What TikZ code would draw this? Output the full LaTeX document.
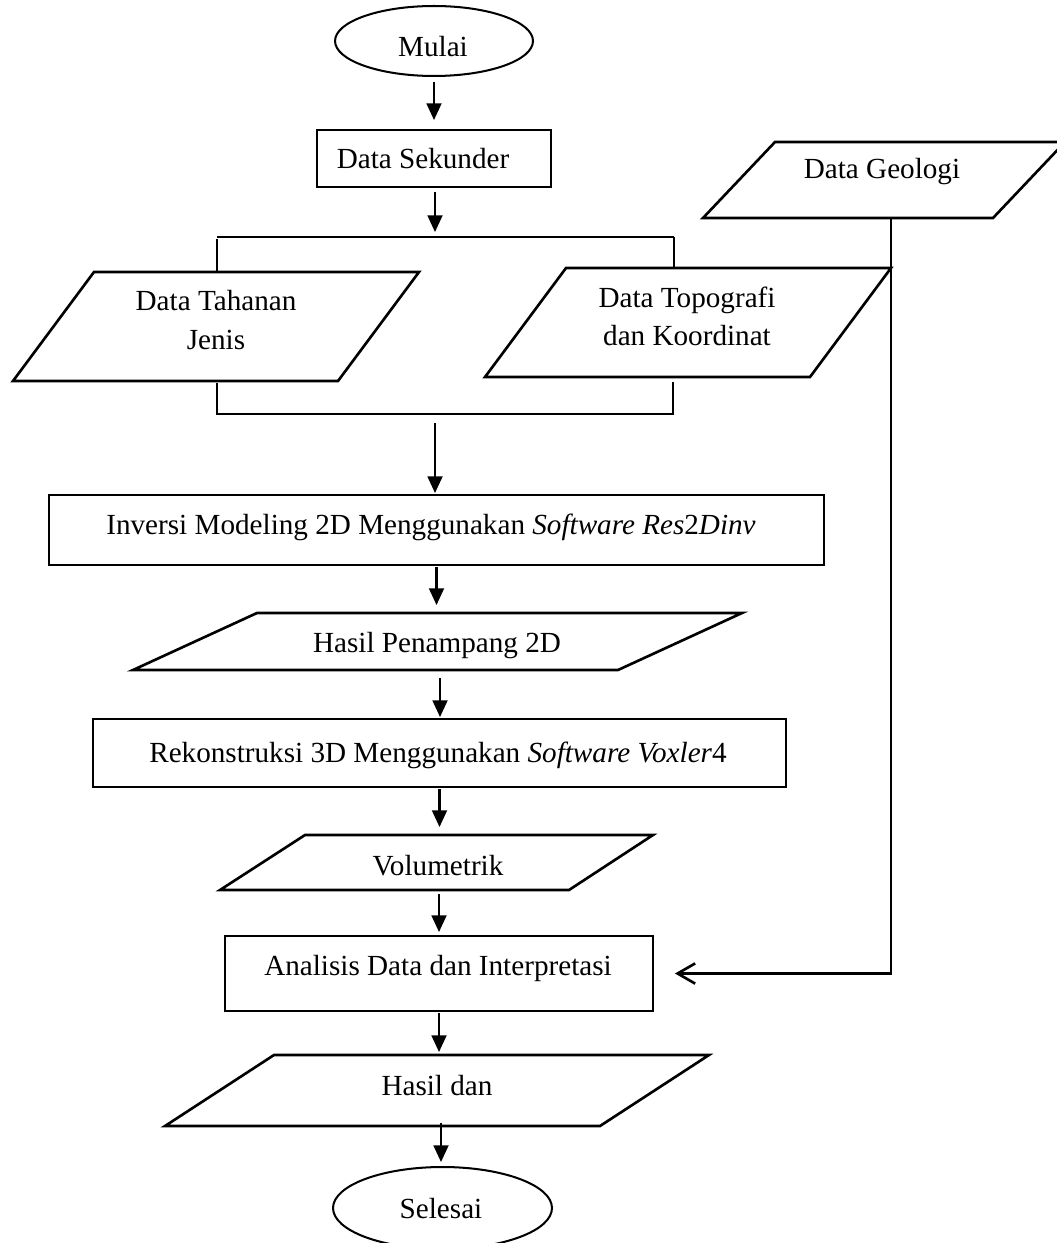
\documentclass[tikz,border=0pt]{standalone}
\usepackage{fontspec}
\setmainfont{Liberation Serif}
\usetikzlibrary{arrows.meta,shapes.geometric}
\begin{document}
\begin{tikzpicture}[x=0.02cm, y=-0.02cm,
  every node/.style={font=\fontsize{16.6}{21.8}\selectfont},
  procbox/.style={draw, rectangle, line width=1.5pt, inner sep=0pt, outer sep=0pt},
  oval/.style={draw, ellipse, line width=1.15pt, inner sep=0pt, outer sep=0pt},
  iobox/.style={draw, line width=1.5pt, line join=miter},
  txt/.style={inner sep=0pt, anchor=base},
  txtc/.style={inner sep=0pt, anchor=center, align=center},
  arr/.style={line width=1.15pt, -{Triangle[length=9.5pt,width=8.5pt]}},
  feed/.style={line width=1.5pt, -{Straight Barb[length=10pt,width=11.5pt,line width=1.5pt]}},
  joinline/.style={line width=0.7pt}
]
\useasboundingbox (0,0) rectangle (1057,1243);
\clip (0,0) rectangle (1057,1243);

% terminators and process boxes
\node[oval, minimum width=3.96cm, minimum height=1.4cm] (mulai) at (434,41) {};
\node[procbox, minimum width=4.68cm, minimum height=1.14cm] (sek) at (434,158.5) {};
\node[procbox, minimum width=15.5cm, minimum height=1.4cm] (inv) at (436.5,530) {};
\node[procbox, minimum width=13.86cm, minimum height=1.36cm] (rek) at (439.5,753) {};
\node[procbox, minimum width=8.56cm, minimum height=1.5cm] (ana) at (439,973.5) {};
\node[oval, minimum width=4.38cm, minimum height=1.64cm] (selesai) at (442.5,1208) {};

% input/output parallelograms
\draw[iobox] (94,272) -- (419,272) -- (338,381) -- (13,381) -- cycle;
\draw[iobox] (566,268) -- (891,268) -- (810,377) -- (485,377) -- cycle;
\draw[iobox] (775,142) -- (1065,142) -- (993,218) -- (703,218) -- cycle;
\draw[iobox] (257,613) -- (742,613) -- (618,670) -- (133,670) -- cycle;
\draw[iobox] (305,835) -- (653,835) -- (569,890) -- (220,890) -- cycle;
\draw[iobox] (274,1055) -- (709,1055) -- (600,1126) -- (165,1126) -- cycle;

% connection points on the parallelograms and the split/merge lines
\coordinate (split) at (435,237);
\coordinate (merge) at (435,414);
\coordinate (geoout) at (891,218);
\coordinate (hp-n) at (438,613);
\coordinate (hp-s) at (440,670);
\coordinate (vol-n) at (439,835);
\coordinate (vol-s) at (439,890);
\coordinate (hd-n) at (439,1055);
\coordinate (hd-s) at (441,1126);

% texts
\node[txt] (mulaiT) at (433,57) {Mulai};
\node[txt] (sekT) at (423,169) {Data Sekunder};
\node[txtc] (tahT) at (216,320) {Data Tahanan\\Jenis};
\node[txtc] (topoT) at (687,316.5) {Data Topografi\\dan Koordinat};
\node[txt] (geoT) at (882,179) {Data Geologi};
\node[txt] (invT) at (431,534) {Inversi Modeling 2D Menggunakan \textit{Software Res}2\textit{Dinv}};
\node[txt] (hpT) at (437,652) {Hasil Penampang 2D};
\node[txt] (rekT) at (438,762) {Rekonstruksi 3D Menggunakan \textit{Software Voxler}4};
\node[txt] (volT) at (438,875) {Volumetrik};
\node[txt] (anaT) at (438,975) {Analisis Data dan Interpretasi};
\node[txt] (hdT) at (437,1095) {Hasil dan};
\node[txt] (selT) at (441,1218) {Selesai};

% split and merge brackets
\draw[line width=1pt] (217,237) -- (674,237);
\draw[joinline] (217,239) -- (217,272);
\draw[joinline] (674,237) -- (674,268);
\draw[line width=0.6pt] (217,383) -- (217,414) -- (673,414) -- (673,382);

% main flow
\draw[arr, shorten <=0.12cm, shorten >=0.2cm] (mulai.south) -- (mulai.south |- sek.north);
\draw[arr, shorten <=0.1cm, shorten >=0.1cm] (sek.south -| split) -- (split);
\draw[arr, shorten <=0.18cm, shorten >=0.04cm] (merge) -- (merge |- inv.north);
\draw[arr, shorten <=0.04cm, shorten >=0.16cm] (inv.south) -- (inv.south |- hp-n);
\draw[arr, shorten <=0.16cm, shorten >=0.04cm] (hp-s) -- (hp-s |- rek.north);
\draw[arr, shorten <=0.04cm, shorten >=0.16cm] (rek.south) -- (rek.south |- vol-n);
\draw[arr, shorten <=0.08cm, shorten >=0.08cm] (vol-s) -- (vol-s |- ana.north);
\draw[arr, shorten <=0.04cm, shorten >=0.06cm] (ana.south) -- (ana.south |- hd-n);
\draw[arr, shorten <=-0.06cm, shorten >=0.1cm] (hd-s) -- (hd-s |- selesai.north);

% geology data feeding the analysis
\draw[feed, shorten >=0.44cm] (geoout) |- (ana.east);
\end{tikzpicture}
\end{document}
